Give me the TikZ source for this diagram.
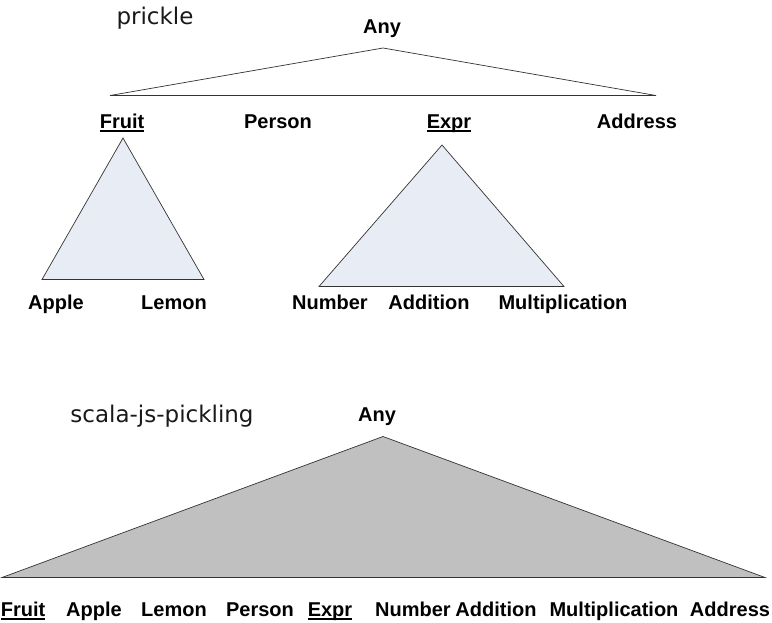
\documentclass[tikz,border=0pt]{standalone}
\usepackage{fontspec}
\setmainfont{Liberation Sans}
\newfontfamily\titlefont{DejaVu Sans}
\begin{document}
\begin{tikzpicture}[x=1pt,y=-1pt,
  lbl/.style={font=\fontsize{20pt}{23pt}\selectfont\bfseries, inner sep=0pt, anchor=base},
  ttl/.style={font=\titlefont\fontsize{23pt}{26pt}\selectfont, text=black!90, inner sep=0pt, anchor=base},
  tri/.style={draw=black!80, line width=0.7pt, line join=miter},
  ul/.style={line width=1.4pt}]
\useasboundingbox (0,0) rectangle (772,622);
% ---------- prickle ----------
\node[ttl] (t1) at (155,24) {prickle};
\node[lbl] (any1) at (382,33) {Any};
\coordinate (a1) at (383,48);
\coordinate (b1l) at (110,95.5);
\coordinate (b1r) at (656,95.5);
\draw[tri] (a1) -- (b1r) -- (b1l) -- cycle;
\node[lbl] (fruit1) at (122,128) {Fruit};
\draw[ul] (fruit1.base west) ++(0,3) -- ([yshift=-3pt]fruit1.base east);
\node[lbl] (person1) at (278,128) {Person};
\node[lbl] (expr1) at (449,128) {Expr};
\draw[ul] (expr1.base west) ++(0,3) -- ([yshift=-3pt]expr1.base east);
\node[lbl] (addr1) at (637,128) {Address};
% Fruit subtree
\coordinate (a2) at (123,138);
\coordinate (b2l) at (42,279.5);
\coordinate (b2r) at (204,279.5);
\draw[tri, fill={rgb,255:red,232;green,236;blue,245}] (a2) -- (b2r) -- (b2l) -- cycle;
\node[lbl] (apple1) at (56,309) {Apple};
\node[lbl] (lemon1) at (174,309) {Lemon};
% Expr subtree
\coordinate (a3) at (442,145);
\coordinate (b3l) at (319,286.5);
\coordinate (b3r) at (564,286.5);
\draw[tri, fill={rgb,255:red,232;green,236;blue,245}] (a3) -- (b3r) -- (b3l) -- cycle;
\node[lbl] (number1) at (330,309) {Number};
\node[lbl] (addition1) at (429,309) {Addition};
\node[lbl] (mult1) at (563,309) {Multiplication};
% ---------- scala-js-pickling ----------
\node[ttl] (t2) at (162,422) {scala-js-pickling};
\node[lbl] (any2) at (377,421) {Any};
\coordinate (a4) at (383,436.5);
\coordinate (b4l) at (2,577.5);
\coordinate (b4r) at (765,577.5);
\draw[tri, fill={rgb,255:red,192;green,192;blue,192}] (a4) -- (b4r) -- (b4l) -- cycle;
\node[lbl] (fruit2) at (23,616) {Fruit};
\draw[ul] (fruit2.base west) ++(0,3) -- ([yshift=-3pt]fruit2.base east);
\node[lbl] (apple2) at (94,616) {Apple};
\node[lbl] (lemon2) at (174,616) {Lemon};
\node[lbl] (person2) at (260,616) {Person};
\node[lbl] (expr2) at (330,616) {Expr};
\draw[ul] (expr2.base west) ++(0,3) -- ([yshift=-3pt]expr2.base east);
\node[lbl] (number2) at (413,616) {Number};
\node[lbl] (addition2) at (496,616) {Addition};
\node[lbl] (mult2) at (614,616) {Multiplication};
\node[lbl] (addr2) at (730,616) {Address};
\end{tikzpicture}
\end{document}
